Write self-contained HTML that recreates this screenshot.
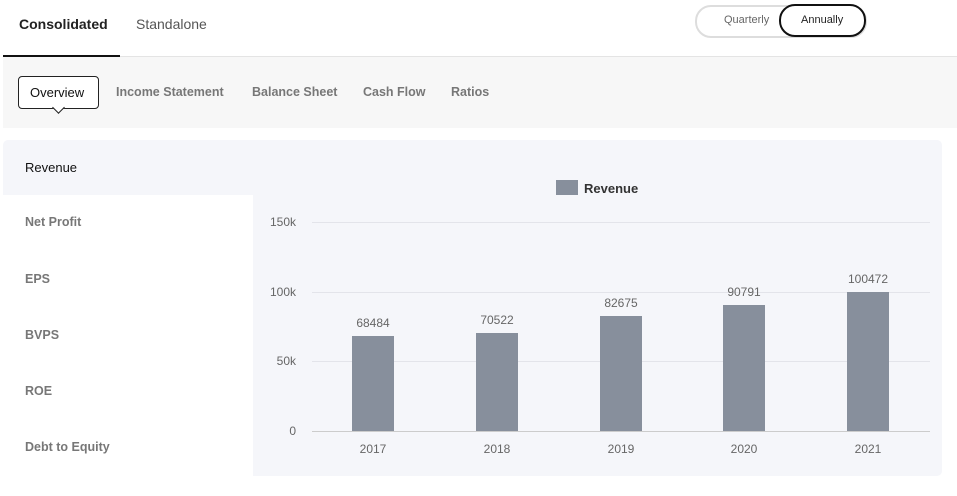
<!DOCTYPE html>
<html><head><style>
body{margin:0;width:957px;height:496px;background:#fff;font-family:"Liberation Sans",sans-serif;position:relative;overflow:hidden}
.a{position:absolute}
</style></head><body>
<div class="a" style="left:19px;top:16px;font-size:14px;font-weight:bold;color:#222">Consolidated</div>
<div class="a" style="left:136px;top:16px;font-size:14px;color:#555">Standalone</div>
<div class="a" style="left:3px;top:56px;width:954px;height:1px;background:#e4e4e4"></div>
<div class="a" style="left:3px;top:55px;width:117px;height:3px;background:#111"></div>
<div class="a" style="left:695px;top:5px;width:168px;height:29px;border:2px solid #ddd;border-radius:16px"></div>
<div class="a" style="left:724px;top:14px;font-size:11px;color:#666">Quarterly</div>
<div class="a" style="left:779px;top:4px;width:83px;height:29px;border:2px solid #111;border-radius:16px;background:#fff"></div>
<div class="a" style="left:801px;top:14px;font-size:11px;color:#222">Annually</div>
<div class="a" style="left:3px;top:57px;width:954px;height:71px;background:#f7f7f7"></div>
<div class="a" style="left:18px;top:76px;width:79px;height:31px;border:1px solid #222;border-radius:4px;background:#fff"></div>
<div class="a" style="left:54px;top:103px;width:8px;height:8px;border-right:1px solid #222;border-bottom:1px solid #222;background:#fff;transform:rotate(45deg)"></div>
<div class="a" style="left:30px;top:85px;font-size:13px;color:#111">Overview</div>
<div class="a" style="left:116px;top:85px;font-size:12.5px;font-weight:bold;color:#777">Income Statement</div>
<div class="a" style="left:252px;top:85px;font-size:12.5px;font-weight:bold;color:#777">Balance Sheet</div>
<div class="a" style="left:363px;top:85px;font-size:12.5px;font-weight:bold;color:#777">Cash Flow</div>
<div class="a" style="left:451px;top:85px;font-size:12.5px;font-weight:bold;color:#777">Ratios</div>
<div class="a" style="left:3px;top:140px;width:939px;height:336px;background:#f5f6fa;border-radius:5px"></div>
<div class="a" style="left:3px;top:195px;width:250px;height:290px;background:#fff"></div>
<div class="a" style="left:25px;top:160px;font-size:13px;color:#111">Revenue</div>
<div class="a" style="left:25px;top:215px;font-size:12.5px;font-weight:bold;color:#777">Net Profit</div>
<div class="a" style="left:25px;top:272px;font-size:12.5px;font-weight:bold;color:#777">EPS</div>
<div class="a" style="left:25px;top:328px;font-size:12.5px;font-weight:bold;color:#777">BVPS</div>
<div class="a" style="left:25px;top:384px;font-size:12.5px;font-weight:bold;color:#777">ROE</div>
<div class="a" style="left:25px;top:440px;font-size:12.5px;font-weight:bold;color:#777">Debt to Equity</div>
<svg class="a" style="left:0;top:0" width="957" height="496" font-family="Liberation Sans, sans-serif">
<rect x="556" y="180" width="22" height="15" fill="#878f9c"/>
<text x="584" y="193" font-size="13" font-weight="bold" fill="#333">Revenue</text>
<g stroke="#e3e4ea" stroke-width="1">
<line x1="312" y1="222.5" x2="930" y2="222.5"/><line x1="312" y1="292.5" x2="930" y2="292.5"/><line x1="312" y1="361.5" x2="930" y2="361.5"/>
</g>
<line x1="312" y1="431.5" x2="930" y2="431.5" stroke="#ccc"/>
<g font-size="12" fill="#666" text-anchor="end">
<text x="296" y="226">150k</text><text x="296" y="296">100k</text><text x="296" y="365">50k</text><text x="296" y="435">0</text>
</g>
<g fill="#878f9c">
<rect x="352" y="336" width="42" height="95"/><rect x="476" y="333" width="42" height="98"/><rect x="600" y="316" width="42" height="115"/><rect x="723" y="305" width="42" height="126"/><rect x="847" y="292" width="42" height="139"/>
</g>
<g font-size="12" fill="#666" text-anchor="middle">
<text x="373" y="327">68484</text><text x="497" y="324">70522</text><text x="621" y="307">82675</text><text x="744" y="296">90791</text><text x="868" y="283">100472</text>
<text x="373" y="453">2017</text><text x="497" y="453">2018</text><text x="621" y="453">2019</text><text x="744" y="453">2020</text><text x="868" y="453">2021</text>
</g>
</svg>
</body></html>
